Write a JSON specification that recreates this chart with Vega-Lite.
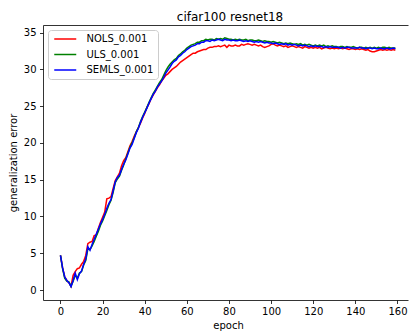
{
"$schema": "https://vega.github.io/schema/vega-lite/v6.json",
"width": 365, "height": 275,
"autosize": {"type": "none"},
"padding": {"left": 43, "top": 25, "right": 1, "bottom": 35},
"background": "white",
"config": {"view": {"stroke": null}, "font": "DejaVu Sans"},
"title": {"text": "cifar100 resnet18", "font": "DejaVu Sans", "fontSize": 12, "fontWeight": "normal", "color": "black", "anchor": "middle", "dx": 4.5, "dy": 14, "baseline": "alphabetic", "offset": 6},
"data": {"values": [
{"epoch":0,"model":"NOLS_0.001","err":4.7},{"epoch":1,"model":"NOLS_0.001","err":3.0},{"epoch":2,"model":"NOLS_0.001","err":1.8},{"epoch":3,"model":"NOLS_0.001","err":1.3},{"epoch":4,"model":"NOLS_0.001","err":1.0},{"epoch":5,"model":"NOLS_0.001","err":0.5},{"epoch":6,"model":"NOLS_0.001","err":2.0},{"epoch":7,"model":"NOLS_0.001","err":2.5},{"epoch":8,"model":"NOLS_0.001","err":2.9},{"epoch":9,"model":"NOLS_0.001","err":3.0},
{"epoch":10,"model":"NOLS_0.001","err":3.5},{"epoch":11,"model":"NOLS_0.001","err":3.9},{"epoch":12,"model":"NOLS_0.001","err":4.7},{"epoch":13,"model":"NOLS_0.001","err":6.3},{"epoch":14,"model":"NOLS_0.001","err":6.5},{"epoch":15,"model":"NOLS_0.001","err":6.6},{"epoch":16,"model":"NOLS_0.001","err":7.4},{"epoch":17,"model":"NOLS_0.001","err":7.5},{"epoch":18,"model":"NOLS_0.001","err":8.4},{"epoch":19,"model":"NOLS_0.001","err":9.2},
{"epoch":20,"model":"NOLS_0.001","err":9.9},{"epoch":21,"model":"NOLS_0.001","err":10.6},{"epoch":22,"model":"NOLS_0.001","err":12.4},{"epoch":23,"model":"NOLS_0.001","err":12.5},{"epoch":24,"model":"NOLS_0.001","err":12.7},{"epoch":25,"model":"NOLS_0.001","err":13.8},{"epoch":26,"model":"NOLS_0.001","err":14.9},{"epoch":27,"model":"NOLS_0.001","err":15.4},{"epoch":28,"model":"NOLS_0.001","err":15.9},{"epoch":29,"model":"NOLS_0.001","err":16.9},
{"epoch":30,"model":"NOLS_0.001","err":17.6},{"epoch":31,"model":"NOLS_0.001","err":18.0},{"epoch":32,"model":"NOLS_0.001","err":18.8},{"epoch":33,"model":"NOLS_0.001","err":19.6},{"epoch":34,"model":"NOLS_0.001","err":20.2},{"epoch":35,"model":"NOLS_0.001","err":20.9},{"epoch":36,"model":"NOLS_0.001","err":21.5},{"epoch":37,"model":"NOLS_0.001","err":22.1},{"epoch":38,"model":"NOLS_0.001","err":22.7},{"epoch":39,"model":"NOLS_0.001","err":23.4},
{"epoch":40,"model":"NOLS_0.001","err":24.0},{"epoch":41,"model":"NOLS_0.001","err":24.8},{"epoch":42,"model":"NOLS_0.001","err":25.3},{"epoch":43,"model":"NOLS_0.001","err":26.0},{"epoch":44,"model":"NOLS_0.001","err":26.5},{"epoch":45,"model":"NOLS_0.001","err":27.0},{"epoch":46,"model":"NOLS_0.001","err":27.5},{"epoch":47,"model":"NOLS_0.001","err":27.9},{"epoch":48,"model":"NOLS_0.001","err":28.4},{"epoch":49,"model":"NOLS_0.001","err":28.8},
{"epoch":50,"model":"NOLS_0.001","err":29.2},{"epoch":51,"model":"NOLS_0.001","err":29.4},{"epoch":52,"model":"NOLS_0.001","err":29.7},{"epoch":53,"model":"NOLS_0.001","err":30.0},{"epoch":54,"model":"NOLS_0.001","err":30.2},{"epoch":55,"model":"NOLS_0.001","err":30.4},{"epoch":56,"model":"NOLS_0.001","err":30.7},{"epoch":57,"model":"NOLS_0.001","err":31.0},{"epoch":58,"model":"NOLS_0.001","err":31.2},{"epoch":59,"model":"NOLS_0.001","err":31.4},
{"epoch":60,"model":"NOLS_0.001","err":31.6},{"epoch":61,"model":"NOLS_0.001","err":31.8},{"epoch":62,"model":"NOLS_0.001","err":32.0},{"epoch":63,"model":"NOLS_0.001","err":32.2},{"epoch":64,"model":"NOLS_0.001","err":32.2},{"epoch":65,"model":"NOLS_0.001","err":32.4},{"epoch":66,"model":"NOLS_0.001","err":32.5},{"epoch":67,"model":"NOLS_0.001","err":32.6},{"epoch":68,"model":"NOLS_0.001","err":32.7},{"epoch":69,"model":"NOLS_0.001","err":32.7},
{"epoch":70,"model":"NOLS_0.001","err":32.9},{"epoch":71,"model":"NOLS_0.001","err":33.0},{"epoch":72,"model":"NOLS_0.001","err":33.0},{"epoch":73,"model":"NOLS_0.001","err":33.1},{"epoch":74,"model":"NOLS_0.001","err":33.1},{"epoch":75,"model":"NOLS_0.001","err":33.2},{"epoch":76,"model":"NOLS_0.001","err":33.1},{"epoch":77,"model":"NOLS_0.001","err":33.2},{"epoch":78,"model":"NOLS_0.001","err":33.3},{"epoch":79,"model":"NOLS_0.001","err":33.0},
{"epoch":80,"model":"NOLS_0.001","err":33.3},{"epoch":81,"model":"NOLS_0.001","err":33.2},{"epoch":82,"model":"NOLS_0.001","err":33.2},{"epoch":83,"model":"NOLS_0.001","err":33.3},{"epoch":84,"model":"NOLS_0.001","err":33.2},{"epoch":85,"model":"NOLS_0.001","err":33.2},{"epoch":86,"model":"NOLS_0.001","err":33.4},{"epoch":87,"model":"NOLS_0.001","err":33.3},{"epoch":88,"model":"NOLS_0.001","err":33.4},{"epoch":89,"model":"NOLS_0.001","err":33.5},
{"epoch":90,"model":"NOLS_0.001","err":33.4},{"epoch":91,"model":"NOLS_0.001","err":33.3},{"epoch":92,"model":"NOLS_0.001","err":33.4},{"epoch":93,"model":"NOLS_0.001","err":33.3},{"epoch":94,"model":"NOLS_0.001","err":33.2},{"epoch":95,"model":"NOLS_0.001","err":33.3},{"epoch":96,"model":"NOLS_0.001","err":33.1},{"epoch":97,"model":"NOLS_0.001","err":33.0},{"epoch":98,"model":"NOLS_0.001","err":33.1},{"epoch":99,"model":"NOLS_0.001","err":33.2},
{"epoch":100,"model":"NOLS_0.001","err":33.4},{"epoch":101,"model":"NOLS_0.001","err":33.5},{"epoch":102,"model":"NOLS_0.001","err":33.3},{"epoch":103,"model":"NOLS_0.001","err":33.2},{"epoch":104,"model":"NOLS_0.001","err":33.3},{"epoch":105,"model":"NOLS_0.001","err":33.2},{"epoch":106,"model":"NOLS_0.001","err":33.1},{"epoch":107,"model":"NOLS_0.001","err":33.2},{"epoch":108,"model":"NOLS_0.001","err":33.0},{"epoch":109,"model":"NOLS_0.001","err":33.1},
{"epoch":110,"model":"NOLS_0.001","err":33.2},{"epoch":111,"model":"NOLS_0.001","err":33.1},{"epoch":112,"model":"NOLS_0.001","err":33.0},{"epoch":113,"model":"NOLS_0.001","err":33.1},{"epoch":114,"model":"NOLS_0.001","err":33.0},{"epoch":115,"model":"NOLS_0.001","err":32.9},{"epoch":116,"model":"NOLS_0.001","err":33.1},{"epoch":117,"model":"NOLS_0.001","err":33.0},{"epoch":118,"model":"NOLS_0.001","err":32.9},{"epoch":119,"model":"NOLS_0.001","err":33.0},
{"epoch":120,"model":"NOLS_0.001","err":32.9},{"epoch":121,"model":"NOLS_0.001","err":33.0},{"epoch":122,"model":"NOLS_0.001","err":32.9},{"epoch":123,"model":"NOLS_0.001","err":33.0},{"epoch":124,"model":"NOLS_0.001","err":32.8},{"epoch":125,"model":"NOLS_0.001","err":32.9},{"epoch":126,"model":"NOLS_0.001","err":33.0},{"epoch":127,"model":"NOLS_0.001","err":32.9},{"epoch":128,"model":"NOLS_0.001","err":32.8},{"epoch":129,"model":"NOLS_0.001","err":32.9},
{"epoch":130,"model":"NOLS_0.001","err":32.8},{"epoch":131,"model":"NOLS_0.001","err":32.9},{"epoch":132,"model":"NOLS_0.001","err":32.8},{"epoch":133,"model":"NOLS_0.001","err":32.9},{"epoch":134,"model":"NOLS_0.001","err":32.8},{"epoch":135,"model":"NOLS_0.001","err":32.9},{"epoch":136,"model":"NOLS_0.001","err":32.8},{"epoch":137,"model":"NOLS_0.001","err":32.7},{"epoch":138,"model":"NOLS_0.001","err":32.8},{"epoch":139,"model":"NOLS_0.001","err":32.8},
{"epoch":140,"model":"NOLS_0.001","err":32.7},{"epoch":141,"model":"NOLS_0.001","err":32.8},{"epoch":142,"model":"NOLS_0.001","err":32.7},{"epoch":143,"model":"NOLS_0.001","err":32.8},{"epoch":144,"model":"NOLS_0.001","err":32.7},{"epoch":145,"model":"NOLS_0.001","err":32.6},{"epoch":146,"model":"NOLS_0.001","err":32.7},{"epoch":147,"model":"NOLS_0.001","err":32.5},{"epoch":148,"model":"NOLS_0.001","err":32.4},{"epoch":149,"model":"NOLS_0.001","err":32.4},
{"epoch":150,"model":"NOLS_0.001","err":32.5},{"epoch":151,"model":"NOLS_0.001","err":32.6},{"epoch":152,"model":"NOLS_0.001","err":32.7},{"epoch":153,"model":"NOLS_0.001","err":32.6},{"epoch":154,"model":"NOLS_0.001","err":32.7},{"epoch":155,"model":"NOLS_0.001","err":32.6},{"epoch":156,"model":"NOLS_0.001","err":32.7},{"epoch":157,"model":"NOLS_0.001","err":32.6},{"epoch":158,"model":"NOLS_0.001","err":32.7},{"epoch":159,"model":"NOLS_0.001","err":32.6},
{"epoch":0,"model":"ULS_0.001","err":4.7},{"epoch":1,"model":"ULS_0.001","err":2.9},{"epoch":2,"model":"ULS_0.001","err":1.6},{"epoch":3,"model":"ULS_0.001","err":1.2},{"epoch":4,"model":"ULS_0.001","err":1.1},{"epoch":5,"model":"ULS_0.001","err":0.5},{"epoch":6,"model":"ULS_0.001","err":1.2},{"epoch":7,"model":"ULS_0.001","err":2.0},{"epoch":8,"model":"ULS_0.001","err":1.6},{"epoch":9,"model":"ULS_0.001","err":2.3},
{"epoch":10,"model":"ULS_0.001","err":2.5},{"epoch":11,"model":"ULS_0.001","err":3.4},{"epoch":12,"model":"ULS_0.001","err":4.0},{"epoch":13,"model":"ULS_0.001","err":5.6},{"epoch":14,"model":"ULS_0.001","err":5.5},{"epoch":15,"model":"ULS_0.001","err":6.0},{"epoch":16,"model":"ULS_0.001","err":6.6},{"epoch":17,"model":"ULS_0.001","err":7.3},{"epoch":18,"model":"ULS_0.001","err":8.0},{"epoch":19,"model":"ULS_0.001","err":8.8},
{"epoch":20,"model":"ULS_0.001","err":9.4},{"epoch":21,"model":"ULS_0.001","err":10.1},{"epoch":22,"model":"ULS_0.001","err":10.8},{"epoch":23,"model":"ULS_0.001","err":11.6},{"epoch":24,"model":"ULS_0.001","err":12.2},{"epoch":25,"model":"ULS_0.001","err":13.3},{"epoch":26,"model":"ULS_0.001","err":14.6},{"epoch":27,"model":"ULS_0.001","err":15.1},{"epoch":28,"model":"ULS_0.001","err":15.5},{"epoch":29,"model":"ULS_0.001","err":16.3},
{"epoch":30,"model":"ULS_0.001","err":17.0},{"epoch":31,"model":"ULS_0.001","err":17.8},{"epoch":32,"model":"ULS_0.001","err":18.6},{"epoch":33,"model":"ULS_0.001","err":19.4},{"epoch":34,"model":"ULS_0.001","err":20.0},{"epoch":35,"model":"ULS_0.001","err":20.7},{"epoch":36,"model":"ULS_0.001","err":21.5},{"epoch":37,"model":"ULS_0.001","err":22.1},{"epoch":38,"model":"ULS_0.001","err":22.9},{"epoch":39,"model":"ULS_0.001","err":23.6},
{"epoch":40,"model":"ULS_0.001","err":24.2},{"epoch":41,"model":"ULS_0.001","err":24.8},{"epoch":42,"model":"ULS_0.001","err":25.5},{"epoch":43,"model":"ULS_0.001","err":26.1},{"epoch":44,"model":"ULS_0.001","err":26.7},{"epoch":45,"model":"ULS_0.001","err":27.2},{"epoch":46,"model":"ULS_0.001","err":27.7},{"epoch":47,"model":"ULS_0.001","err":28.2},{"epoch":48,"model":"ULS_0.001","err":28.6},{"epoch":49,"model":"ULS_0.001","err":29.2},
{"epoch":50,"model":"ULS_0.001","err":29.8},{"epoch":51,"model":"ULS_0.001","err":30.3},{"epoch":52,"model":"ULS_0.001","err":30.7},{"epoch":53,"model":"ULS_0.001","err":31.0},{"epoch":54,"model":"ULS_0.001","err":31.3},{"epoch":55,"model":"ULS_0.001","err":31.5},{"epoch":56,"model":"ULS_0.001","err":31.9},{"epoch":57,"model":"ULS_0.001","err":32.1},{"epoch":58,"model":"ULS_0.001","err":32.4},{"epoch":59,"model":"ULS_0.001","err":32.6},
{"epoch":60,"model":"ULS_0.001","err":32.9},{"epoch":61,"model":"ULS_0.001","err":33.1},{"epoch":62,"model":"ULS_0.001","err":33.3},{"epoch":63,"model":"ULS_0.001","err":33.4},{"epoch":64,"model":"ULS_0.001","err":33.5},{"epoch":65,"model":"ULS_0.001","err":33.7},{"epoch":66,"model":"ULS_0.001","err":33.7},{"epoch":67,"model":"ULS_0.001","err":33.9},{"epoch":68,"model":"ULS_0.001","err":33.9},{"epoch":69,"model":"ULS_0.001","err":34.1},
{"epoch":70,"model":"ULS_0.001","err":34.0},{"epoch":71,"model":"ULS_0.001","err":34.1},{"epoch":72,"model":"ULS_0.001","err":34.1},{"epoch":73,"model":"ULS_0.001","err":34.0},{"epoch":74,"model":"ULS_0.001","err":34.2},{"epoch":75,"model":"ULS_0.001","err":34.1},{"epoch":76,"model":"ULS_0.001","err":34.2},{"epoch":77,"model":"ULS_0.001","err":34.1},{"epoch":78,"model":"ULS_0.001","err":34.3},{"epoch":79,"model":"ULS_0.001","err":34.2},
{"epoch":80,"model":"ULS_0.001","err":34.1},{"epoch":81,"model":"ULS_0.001","err":34.1},{"epoch":82,"model":"ULS_0.001","err":34.0},{"epoch":83,"model":"ULS_0.001","err":34.1},{"epoch":84,"model":"ULS_0.001","err":34.0},{"epoch":85,"model":"ULS_0.001","err":34.1},{"epoch":86,"model":"ULS_0.001","err":34.0},{"epoch":87,"model":"ULS_0.001","err":34.0},{"epoch":88,"model":"ULS_0.001","err":34.1},{"epoch":89,"model":"ULS_0.001","err":33.9},
{"epoch":90,"model":"ULS_0.001","err":34.0},{"epoch":91,"model":"ULS_0.001","err":34.0},{"epoch":92,"model":"ULS_0.001","err":33.9},{"epoch":93,"model":"ULS_0.001","err":33.9},{"epoch":94,"model":"ULS_0.001","err":34.0},{"epoch":95,"model":"ULS_0.001","err":33.9},{"epoch":96,"model":"ULS_0.001","err":33.8},{"epoch":97,"model":"ULS_0.001","err":33.9},{"epoch":98,"model":"ULS_0.001","err":33.8},{"epoch":99,"model":"ULS_0.001","err":33.8},
{"epoch":100,"model":"ULS_0.001","err":33.7},{"epoch":101,"model":"ULS_0.001","err":33.8},{"epoch":102,"model":"ULS_0.001","err":33.7},{"epoch":103,"model":"ULS_0.001","err":33.6},{"epoch":104,"model":"ULS_0.001","err":33.7},{"epoch":105,"model":"ULS_0.001","err":33.6},{"epoch":106,"model":"ULS_0.001","err":33.5},{"epoch":107,"model":"ULS_0.001","err":33.6},{"epoch":108,"model":"ULS_0.001","err":33.5},{"epoch":109,"model":"ULS_0.001","err":33.6},
{"epoch":110,"model":"ULS_0.001","err":33.5},{"epoch":111,"model":"ULS_0.001","err":33.4},{"epoch":112,"model":"ULS_0.001","err":33.5},{"epoch":113,"model":"ULS_0.001","err":33.4},{"epoch":114,"model":"ULS_0.001","err":33.5},{"epoch":115,"model":"ULS_0.001","err":33.3},{"epoch":116,"model":"ULS_0.001","err":33.4},{"epoch":117,"model":"ULS_0.001","err":33.3},{"epoch":118,"model":"ULS_0.001","err":33.4},{"epoch":119,"model":"ULS_0.001","err":33.3},
{"epoch":120,"model":"ULS_0.001","err":33.2},{"epoch":121,"model":"ULS_0.001","err":33.3},{"epoch":122,"model":"ULS_0.001","err":33.2},{"epoch":123,"model":"ULS_0.001","err":33.3},{"epoch":124,"model":"ULS_0.001","err":33.2},{"epoch":125,"model":"ULS_0.001","err":33.3},{"epoch":126,"model":"ULS_0.001","err":33.1},{"epoch":127,"model":"ULS_0.001","err":33.2},{"epoch":128,"model":"ULS_0.001","err":33.1},{"epoch":129,"model":"ULS_0.001","err":33.2},
{"epoch":130,"model":"ULS_0.001","err":33.1},{"epoch":131,"model":"ULS_0.001","err":33.1},{"epoch":132,"model":"ULS_0.001","err":33.0},{"epoch":133,"model":"ULS_0.001","err":33.1},{"epoch":134,"model":"ULS_0.001","err":33.1},{"epoch":135,"model":"ULS_0.001","err":33.0},{"epoch":136,"model":"ULS_0.001","err":33.1},{"epoch":137,"model":"ULS_0.001","err":33.0},{"epoch":138,"model":"ULS_0.001","err":33.0},{"epoch":139,"model":"ULS_0.001","err":33.1},
{"epoch":140,"model":"ULS_0.001","err":33.0},{"epoch":141,"model":"ULS_0.001","err":32.9},{"epoch":142,"model":"ULS_0.001","err":33.0},{"epoch":143,"model":"ULS_0.001","err":33.0},{"epoch":144,"model":"ULS_0.001","err":32.9},{"epoch":145,"model":"ULS_0.001","err":33.0},{"epoch":146,"model":"ULS_0.001","err":32.9},{"epoch":147,"model":"ULS_0.001","err":33.0},{"epoch":148,"model":"ULS_0.001","err":32.9},{"epoch":149,"model":"ULS_0.001","err":33.0},
{"epoch":150,"model":"ULS_0.001","err":32.9},{"epoch":151,"model":"ULS_0.001","err":33.0},{"epoch":152,"model":"ULS_0.001","err":32.9},{"epoch":153,"model":"ULS_0.001","err":33.0},{"epoch":154,"model":"ULS_0.001","err":33.0},{"epoch":155,"model":"ULS_0.001","err":32.9},{"epoch":156,"model":"ULS_0.001","err":33.0},{"epoch":157,"model":"ULS_0.001","err":32.9},{"epoch":158,"model":"ULS_0.001","err":32.9},{"epoch":159,"model":"ULS_0.001","err":32.9},
{"epoch":0,"model":"SEMLS_0.001","err":4.7},{"epoch":1,"model":"SEMLS_0.001","err":3.0},{"epoch":2,"model":"SEMLS_0.001","err":1.8},{"epoch":3,"model":"SEMLS_0.001","err":1.3},{"epoch":4,"model":"SEMLS_0.001","err":1.0},{"epoch":5,"model":"SEMLS_0.001","err":0.45},{"epoch":6,"model":"SEMLS_0.001","err":1.3},{"epoch":7,"model":"SEMLS_0.001","err":2.3},{"epoch":8,"model":"SEMLS_0.001","err":1.4},{"epoch":9,"model":"SEMLS_0.001","err":2.2},
{"epoch":10,"model":"SEMLS_0.001","err":2.6},{"epoch":11,"model":"SEMLS_0.001","err":3.5},{"epoch":12,"model":"SEMLS_0.001","err":4.2},{"epoch":13,"model":"SEMLS_0.001","err":5.9},{"epoch":14,"model":"SEMLS_0.001","err":5.4},{"epoch":15,"model":"SEMLS_0.001","err":6.2},{"epoch":16,"model":"SEMLS_0.001","err":6.9},{"epoch":17,"model":"SEMLS_0.001","err":7.6},{"epoch":18,"model":"SEMLS_0.001","err":8.3},{"epoch":19,"model":"SEMLS_0.001","err":9.0},
{"epoch":20,"model":"SEMLS_0.001","err":9.6},{"epoch":21,"model":"SEMLS_0.001","err":10.3},{"epoch":22,"model":"SEMLS_0.001","err":11.1},{"epoch":23,"model":"SEMLS_0.001","err":11.8},{"epoch":24,"model":"SEMLS_0.001","err":12.3},{"epoch":25,"model":"SEMLS_0.001","err":13.5},{"epoch":26,"model":"SEMLS_0.001","err":14.7},{"epoch":27,"model":"SEMLS_0.001","err":15.3},{"epoch":28,"model":"SEMLS_0.001","err":15.6},{"epoch":29,"model":"SEMLS_0.001","err":16.4},
{"epoch":30,"model":"SEMLS_0.001","err":17.1},{"epoch":31,"model":"SEMLS_0.001","err":17.7},{"epoch":32,"model":"SEMLS_0.001","err":18.5},{"epoch":33,"model":"SEMLS_0.001","err":19.3},{"epoch":34,"model":"SEMLS_0.001","err":19.8},{"epoch":35,"model":"SEMLS_0.001","err":20.6},{"epoch":36,"model":"SEMLS_0.001","err":21.4},{"epoch":37,"model":"SEMLS_0.001","err":22.0},{"epoch":38,"model":"SEMLS_0.001","err":22.8},{"epoch":39,"model":"SEMLS_0.001","err":23.5},
{"epoch":40,"model":"SEMLS_0.001","err":24.1},{"epoch":41,"model":"SEMLS_0.001","err":24.7},{"epoch":42,"model":"SEMLS_0.001","err":25.4},{"epoch":43,"model":"SEMLS_0.001","err":26.0},{"epoch":44,"model":"SEMLS_0.001","err":26.6},{"epoch":45,"model":"SEMLS_0.001","err":27.0},{"epoch":46,"model":"SEMLS_0.001","err":27.6},{"epoch":47,"model":"SEMLS_0.001","err":28.0},{"epoch":48,"model":"SEMLS_0.001","err":28.4},{"epoch":49,"model":"SEMLS_0.001","err":28.9},
{"epoch":50,"model":"SEMLS_0.001","err":29.5},{"epoch":51,"model":"SEMLS_0.001","err":29.9},{"epoch":52,"model":"SEMLS_0.001","err":30.3},{"epoch":53,"model":"SEMLS_0.001","err":30.8},{"epoch":54,"model":"SEMLS_0.001","err":31.1},{"epoch":55,"model":"SEMLS_0.001","err":31.3},{"epoch":56,"model":"SEMLS_0.001","err":31.7},{"epoch":57,"model":"SEMLS_0.001","err":31.9},{"epoch":58,"model":"SEMLS_0.001","err":32.2},{"epoch":59,"model":"SEMLS_0.001","err":32.4},
{"epoch":60,"model":"SEMLS_0.001","err":32.7},{"epoch":61,"model":"SEMLS_0.001","err":32.9},{"epoch":62,"model":"SEMLS_0.001","err":33.1},{"epoch":63,"model":"SEMLS_0.001","err":33.2},{"epoch":64,"model":"SEMLS_0.001","err":33.3},{"epoch":65,"model":"SEMLS_0.001","err":33.5},{"epoch":66,"model":"SEMLS_0.001","err":33.5},{"epoch":67,"model":"SEMLS_0.001","err":33.7},{"epoch":68,"model":"SEMLS_0.001","err":33.7},{"epoch":69,"model":"SEMLS_0.001","err":33.9},
{"epoch":70,"model":"SEMLS_0.001","err":33.9},{"epoch":71,"model":"SEMLS_0.001","err":33.8},{"epoch":72,"model":"SEMLS_0.001","err":34.0},{"epoch":73,"model":"SEMLS_0.001","err":33.9},{"epoch":74,"model":"SEMLS_0.001","err":34.0},{"epoch":75,"model":"SEMLS_0.001","err":34.1},{"epoch":76,"model":"SEMLS_0.001","err":34.0},{"epoch":77,"model":"SEMLS_0.001","err":33.9},{"epoch":78,"model":"SEMLS_0.001","err":34.1},{"epoch":79,"model":"SEMLS_0.001","err":34.0},
{"epoch":80,"model":"SEMLS_0.001","err":34.0},{"epoch":81,"model":"SEMLS_0.001","err":33.9},{"epoch":82,"model":"SEMLS_0.001","err":34.0},{"epoch":83,"model":"SEMLS_0.001","err":33.9},{"epoch":84,"model":"SEMLS_0.001","err":33.9},{"epoch":85,"model":"SEMLS_0.001","err":34.0},{"epoch":86,"model":"SEMLS_0.001","err":33.9},{"epoch":87,"model":"SEMLS_0.001","err":33.8},{"epoch":88,"model":"SEMLS_0.001","err":33.9},{"epoch":89,"model":"SEMLS_0.001","err":33.8},
{"epoch":90,"model":"SEMLS_0.001","err":33.9},{"epoch":91,"model":"SEMLS_0.001","err":33.8},{"epoch":92,"model":"SEMLS_0.001","err":33.7},{"epoch":93,"model":"SEMLS_0.001","err":33.8},{"epoch":94,"model":"SEMLS_0.001","err":33.7},{"epoch":95,"model":"SEMLS_0.001","err":33.8},{"epoch":96,"model":"SEMLS_0.001","err":33.7},{"epoch":97,"model":"SEMLS_0.001","err":33.6},{"epoch":98,"model":"SEMLS_0.001","err":33.7},{"epoch":99,"model":"SEMLS_0.001","err":33.6},
{"epoch":100,"model":"SEMLS_0.001","err":33.6},{"epoch":101,"model":"SEMLS_0.001","err":33.5},{"epoch":102,"model":"SEMLS_0.001","err":33.6},{"epoch":103,"model":"SEMLS_0.001","err":33.5},{"epoch":104,"model":"SEMLS_0.001","err":33.4},{"epoch":105,"model":"SEMLS_0.001","err":33.5},{"epoch":106,"model":"SEMLS_0.001","err":33.4},{"epoch":107,"model":"SEMLS_0.001","err":33.5},{"epoch":108,"model":"SEMLS_0.001","err":33.3},{"epoch":109,"model":"SEMLS_0.001","err":33.4},
{"epoch":110,"model":"SEMLS_0.001","err":33.3},{"epoch":111,"model":"SEMLS_0.001","err":33.4},{"epoch":112,"model":"SEMLS_0.001","err":33.3},{"epoch":113,"model":"SEMLS_0.001","err":33.2},{"epoch":114,"model":"SEMLS_0.001","err":33.3},{"epoch":115,"model":"SEMLS_0.001","err":33.2},{"epoch":116,"model":"SEMLS_0.001","err":33.3},{"epoch":117,"model":"SEMLS_0.001","err":33.2},{"epoch":118,"model":"SEMLS_0.001","err":33.1},{"epoch":119,"model":"SEMLS_0.001","err":33.2},
{"epoch":120,"model":"SEMLS_0.001","err":33.1},{"epoch":121,"model":"SEMLS_0.001","err":33.2},{"epoch":122,"model":"SEMLS_0.001","err":33.1},{"epoch":123,"model":"SEMLS_0.001","err":33.1},{"epoch":124,"model":"SEMLS_0.001","err":33.1},{"epoch":125,"model":"SEMLS_0.001","err":33.0},{"epoch":126,"model":"SEMLS_0.001","err":33.1},{"epoch":127,"model":"SEMLS_0.001","err":33.0},{"epoch":128,"model":"SEMLS_0.001","err":33.1},{"epoch":129,"model":"SEMLS_0.001","err":33.0},
{"epoch":130,"model":"SEMLS_0.001","err":33.0},{"epoch":131,"model":"SEMLS_0.001","err":33.0},{"epoch":132,"model":"SEMLS_0.001","err":33.0},{"epoch":133,"model":"SEMLS_0.001","err":32.9},{"epoch":134,"model":"SEMLS_0.001","err":33.0},{"epoch":135,"model":"SEMLS_0.001","err":32.9},{"epoch":136,"model":"SEMLS_0.001","err":33.0},{"epoch":137,"model":"SEMLS_0.001","err":33.0},{"epoch":138,"model":"SEMLS_0.001","err":32.9},{"epoch":139,"model":"SEMLS_0.001","err":32.9},
{"epoch":140,"model":"SEMLS_0.001","err":32.9},{"epoch":141,"model":"SEMLS_0.001","err":32.9},{"epoch":142,"model":"SEMLS_0.001","err":33.0},{"epoch":143,"model":"SEMLS_0.001","err":32.9},{"epoch":144,"model":"SEMLS_0.001","err":32.9},{"epoch":145,"model":"SEMLS_0.001","err":32.8},{"epoch":146,"model":"SEMLS_0.001","err":32.9},{"epoch":147,"model":"SEMLS_0.001","err":32.9},{"epoch":148,"model":"SEMLS_0.001","err":32.8},{"epoch":149,"model":"SEMLS_0.001","err":32.9},
{"epoch":150,"model":"SEMLS_0.001","err":32.8},{"epoch":151,"model":"SEMLS_0.001","err":32.8},{"epoch":152,"model":"SEMLS_0.001","err":32.9},{"epoch":153,"model":"SEMLS_0.001","err":32.8},{"epoch":154,"model":"SEMLS_0.001","err":32.8},{"epoch":155,"model":"SEMLS_0.001","err":32.9},{"epoch":156,"model":"SEMLS_0.001","err":32.8},{"epoch":157,"model":"SEMLS_0.001","err":32.8},{"epoch":158,"model":"SEMLS_0.001","err":32.9},{"epoch":159,"model":"SEMLS_0.001","err":32.8}
]},
"encoding": {
"y": {"field": "err", "type": "quantitative",
"scale": {"domain": [-1.36, 36.04], "nice": false, "zero": false},
"axis": {"values": [0,5,10,15,20,25,30,35], "grid": false, "domainColor": "black", "domainWidth": 0.8, "tickColor": "black", "tickWidth": 0.8, "tickSize": 3.5, "labelPadding": 3.5, "labelFont": "DejaVu Sans", "labelFontSize": 10, "labelColor": "black", "labelFlush": false, "labelOverlap": false, "title": "generalization error", "titleFont": "DejaVu Sans", "titleFontSize": 10, "titleFontWeight": "normal", "titleColor": "black", "titleAngle": -90, "titleX": -27, "titleY": 137.5, "titleAlign": "center", "titleBaseline": "alphabetic"}}
},
"layer": [
{
"mark": {"type": "line", "strokeWidth": 1.5, "clip": true},
"encoding": {
"x": {"field": "epoch", "type": "quantitative",
"scale": {"domain": [-8.3, 165], "nice": false, "zero": false},
"axis": {"orient": "bottom", "values": [0,20,40,60,80,100,120,140,160], "grid": false, "domainColor": "black", "domainWidth": 0.8, "tickColor": "black", "tickWidth": 0.8, "tickSize": 3.5, "labelPadding": 3, "labelFont": "DejaVu Sans", "labelFontSize": 10, "labelColor": "black", "labelFlush": false, "labelOverlap": false, "title": "epoch", "titleFont": "DejaVu Sans", "titleFontSize": 10, "titleFontWeight": "normal", "titleColor": "black", "titleX": 185, "titleY": 28, "titleBaseline": "alphabetic"}},
"color": {"field": "model", "type": "nominal", "sort": null,
"scale": {"domain": ["NOLS_0.001", "ULS_0.001", "SEMLS_0.001"], "range": ["#ff0000", "#008000", "#0000ff"]},
"legend": {"orient": "none", "legendX": 5, "legendY": 5, "title": null, "symbolType": "M-4,0H4", "symbolSize": 30.25, "symbolStrokeWidth": 1.5, "symbolOffset": 8.25, "labelOffset": 16.25, "labelFont": "DejaVu Sans", "labelFontSize": 10, "labelColor": "black", "rowPadding": 5.5, "padding": 4, "cornerRadius": 3, "strokeColor": "#cccccc", "fillColor": "rgba(255,255,255,0.8)"}}
}
},
{
"mark": {"type": "line", "strokeOpacity": 0},
"encoding": {
"x": {"field": "epoch", "type": "quantitative", "axis": {"orient": "top", "labels": false, "ticks": false, "title": null, "grid": false, "domainColor": "black", "domainWidth": 0.8}}
}
}
],
"resolve": {"axis": {"x": "independent"}}
}
